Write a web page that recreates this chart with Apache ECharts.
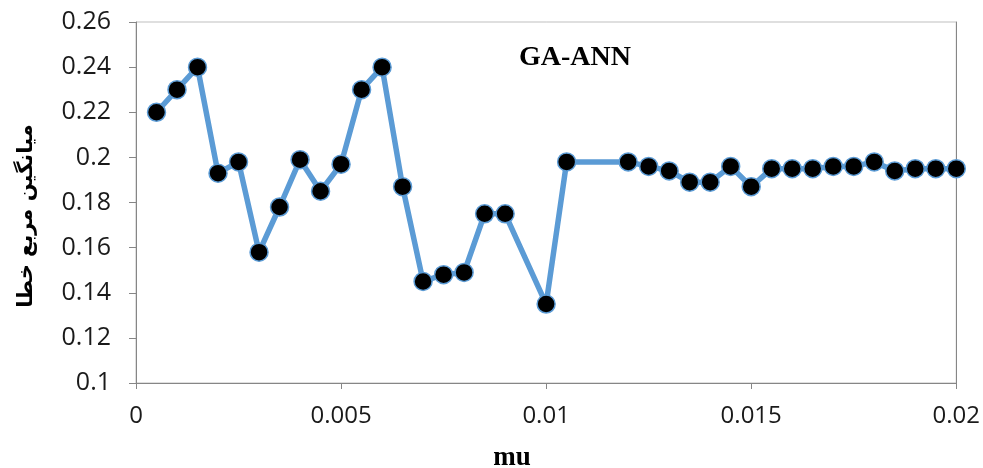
<!DOCTYPE html>
<html>
<head>
<meta charset="utf-8">
<script src="https://cdn.jsdelivr.net/npm/echarts@6/dist/echarts.min.js"></script>
<style>
  html, body { margin: 0; padding: 0; background: #fff; }
  #chart { width: 983px; height: 468px; }
</style>
</head>
<body>
<div id="chart"></div>
<script>
// Learning rate (mu) values and the mean squared error reached for each
const muValues = [
  0.0005, 0.001, 0.0015, 0.002, 0.0025, 0.003, 0.0035, 0.004, 0.0045, 0.005,
  0.0055, 0.006, 0.0065, 0.007, 0.0075, 0.008, 0.0085, 0.009, 0.010, 0.0105,
  0.012, 0.0125, 0.013, 0.0135, 0.014, 0.0145, 0.015, 0.0155, 0.016, 0.0165,
  0.017, 0.0175, 0.018, 0.0185, 0.019, 0.0195, 0.020
];
const mseValues = [
  0.220, 0.230, 0.240, 0.193, 0.198, 0.158, 0.178, 0.199, 0.185, 0.197,
  0.230, 0.240, 0.187, 0.145, 0.148, 0.149, 0.175, 0.175, 0.135, 0.198,
  0.198, 0.196, 0.194, 0.189, 0.189, 0.196, 0.187, 0.195, 0.195, 0.195,
  0.196, 0.196, 0.198, 0.194, 0.195, 0.195, 0.195
];

const chartTitle = 'GA-ANN';
const xTitle = 'mu';
const yTitle = 'میانگین مربع خطا';

const points = muValues.map((m, i) => [m, mseValues[i]]);
const axisGray = '#868686';
const labelFont = '"Open Sans", "Noto Sans", sans-serif';

const chart = echarts.init(document.getElementById('chart'), null, { renderer: 'canvas' });
chart.setOption({
  animation: false,
  backgroundColor: '#ffffff',
  grid: {
    left: 136, right: 26, top: 22, bottom: 85,
    show: true, borderColor: '#bfbfbf', borderWidth: 1
  },
  title: {
    text: chartTitle,
    left: 570, top: 39, textAlign: 'center',
    textStyle: {
      fontFamily: '"Liberation Serif", "Times New Roman", serif',
      fontWeight: 'bold', fontSize: 28, color: '#000'
    }
  },
  graphic: [
    {
      type: 'text',
      x: 512, y: 458,
      style: {
        text: xTitle,
        font: 'bold 27px "Liberation Serif", "Times New Roman", serif',
        fill: '#000', align: 'center', verticalAlign: 'middle'
      }
    },
    {
      type: 'text',
      x: 27, y: 216, rotation: Math.PI / 2,
      style: {
        text: yTitle,
        font: 'bold 21px "DejaVu Sans", sans-serif',
        fill: '#000', align: 'center', verticalAlign: 'middle'
      }
    }
  ],
  xAxis: {
    type: 'value',
    min: 0, max: 0.02, interval: 0.005,
    splitLine: { show: false },
    axisLine: { show: true, onZero: false, lineStyle: { color: axisGray, width: 1 } },
    axisTick: { show: true, length: 6, inside: false, lineStyle: { color: axisGray } },
    axisLabel: {
      margin: 21, color: '#1a1a1a', fontSize: 24, fontFamily: labelFont,
      formatter: v => String(+v.toFixed(4))
    }
  },
  yAxis: [
    {
      type: 'value',
      min: 0.1, max: 0.26, interval: 0.02,
      splitLine: { show: false },
      axisLine: { show: true, onZero: false, lineStyle: { color: axisGray, width: 1 } },
      axisTick: { show: true, length: 7, lineStyle: { color: axisGray } },
      axisLabel: {
        margin: 25, color: '#1a1a1a', fontSize: 25, fontFamily: labelFont,
        formatter: v => String(+v.toFixed(3))
      }
    },
    {
      type: 'value', position: 'right',
      min: 0.1, max: 0.26, interval: 0.02,
      splitLine: { show: false },
      axisLine: { show: true, onZero: false, lineStyle: { color: axisGray, width: 1 } },
      axisTick: { show: false },
      axisLabel: { show: false }
    }
  ],
  series: [
    {
      type: 'line',
      data: points,
      yAxisIndex: 0,
      symbol: 'circle',
      symbolSize: 18,
      lineStyle: { color: '#5b9bd5', width: 5.5 },
      itemStyle: { color: '#000000', borderColor: '#5b9bd5', borderWidth: 1.5 },
      z: 3
    }
  ]
});
</script>
</body>
</html>
